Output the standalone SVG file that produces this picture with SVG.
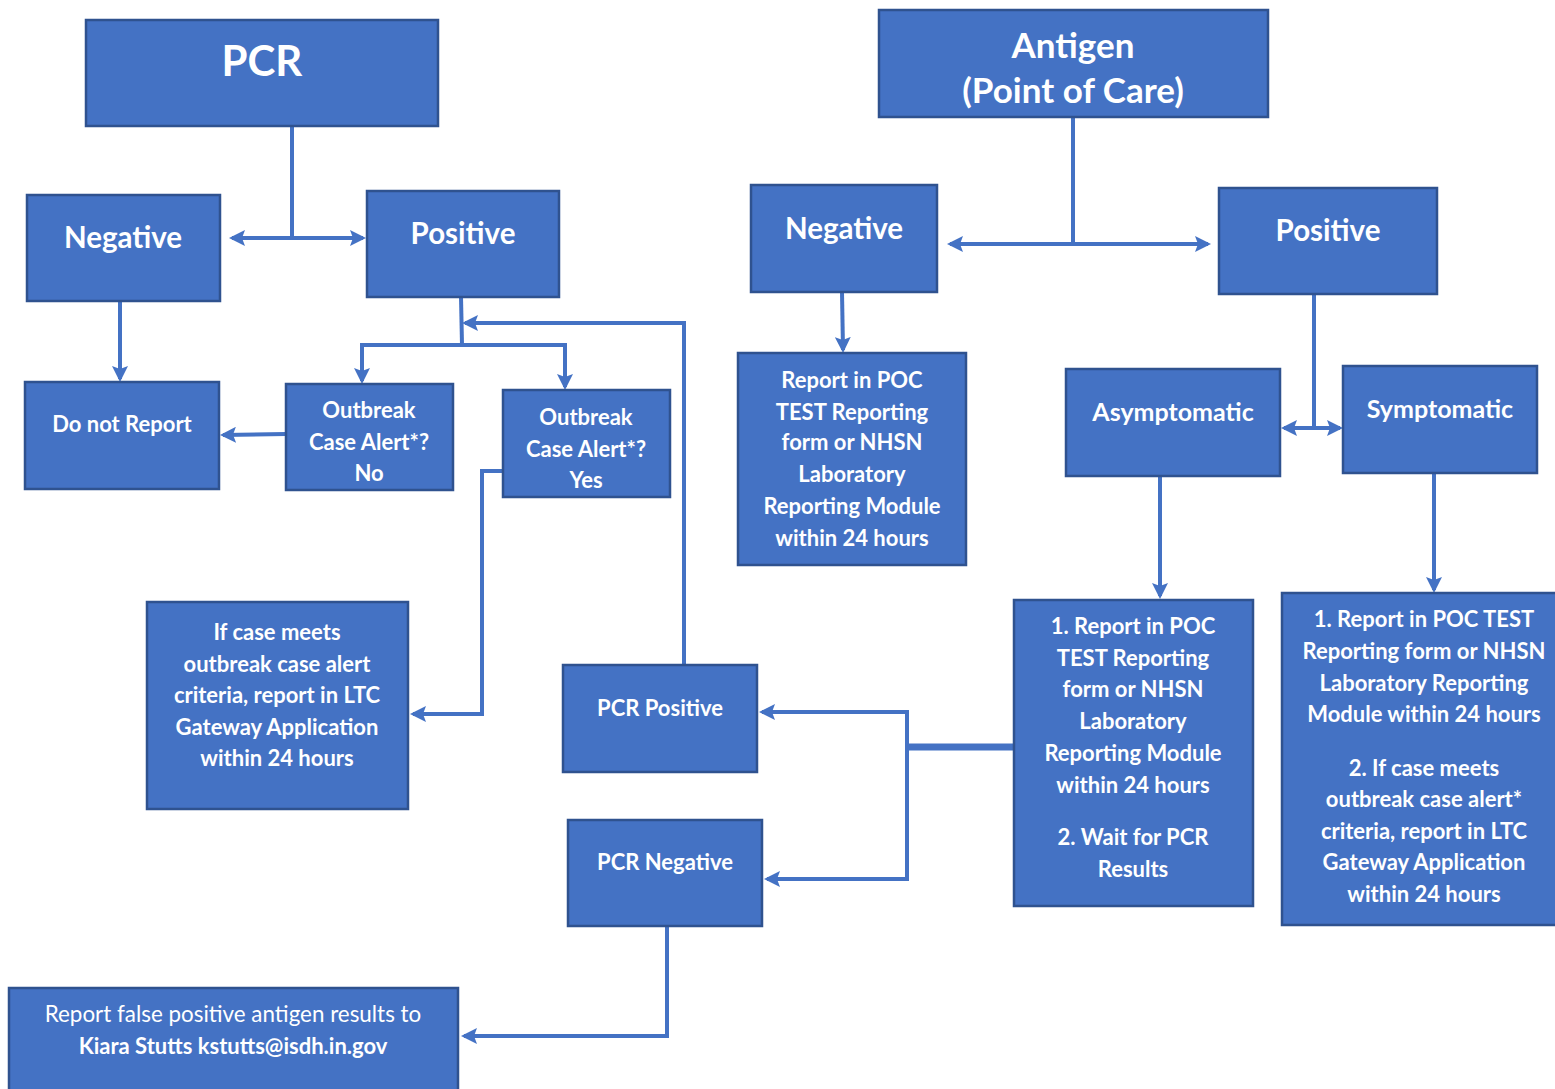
<svg xmlns="http://www.w3.org/2000/svg" width="1555" height="1089" viewBox="0 0 1555 1089">
<defs>
<style>
.box{fill:#4472C4;stroke:#2F528F;stroke-width:2.5}
.t{font-family:Lato,"Open Sans","Liberation Sans",sans-serif;font-weight:bold;fill:#fff;text-anchor:middle}
.r{font-weight:normal}
.c{fill:none;stroke:#4472C4;stroke-width:4}
.a{marker-end:url(#ah)}
.b{marker-start:url(#ah);marker-end:url(#ah)}
</style>
<marker id="ah" markerWidth="16" markerHeight="16" refX="13" refY="8" orient="auto-start-reverse" markerUnits="userSpaceOnUse"><path d="M0,0 L16,8 L0,16 L3,8 z" fill="#4472C4"/></marker>
</defs>
<rect width="1555" height="1089" fill="#fff"/>
<g id="connectors">
<path class="c" d="M292,126 V238"/>
<path class="c b" d="M232,238 H363"/>
<path class="c a" d="M120,301 V379"/>
<path class="c" d="M461,297 L462,345"/>
<path class="c" d="M362,345 H565"/>
<path class="c a" d="M362,343 V381"/>
<path class="c a" d="M565,343 V387"/>
<path class="c a" d="M286,434 L223,435"/>
<path class="c a" d="M503,471 H482 V714 H413"/>
<path class="c a" d="M684,665 V323 H465"/>
<path class="c" d="M1073,117 V244"/>
<path class="c b" d="M950,244 H1208"/>
<path class="c a" d="M842,292 L843,350"/>
<path class="c" d="M1314,294 V428"/>
<path class="c b" d="M1284,428 H1340"/>
<path class="c a" d="M1160,476 V596"/>
<path class="c a" d="M1434,473 V590"/>
<path class="c" style="stroke-width:7" d="M1014,747 H907"/>
<path class="c a" d="M907,747 V712 H762"/>
<path class="c a" d="M907,747 V879 H767"/>
<path class="c a" d="M667,926 V1036 H464"/>
</g>
<g id="pcr"><rect class="box" x="86" y="20" width="352" height="106"/><text class="t" x="262" y="76" font-size="42">PCR</text></g>
<g id="antigen"><rect class="box" x="879" y="10" width="389" height="107"/><text class="t" x="1073" y="58" font-size="35">Antigen</text><text class="t" x="1073" y="103" font-size="35">(Point of Care)</text></g>
<g id="pcr-negative"><rect class="box" x="27" y="195" width="193" height="106"/><text class="t" x="123" y="248" font-size="29.5">Negative</text></g>
<g id="pcr-positive"><rect class="box" x="367" y="191" width="192" height="106"/><text class="t" x="463" y="244" font-size="29.5">Positive</text></g>
<g id="do-not-report"><rect class="box" x="25" y="382" width="194" height="107"/><text class="t" x="122" y="432" font-size="22">Do not Report</text></g>
<g id="outbreak-no"><rect class="box" x="286" y="384" width="167" height="106"/><text class="t" font-size="22"><tspan x="369" y="418">Outbreak</tspan><tspan x="369" y="450">Case Alert*?</tspan><tspan x="369" y="481">No</tspan></text></g>
<g id="outbreak-yes"><rect class="box" x="503" y="390" width="167" height="107"/><text class="t" font-size="22"><tspan x="586" y="425">Outbreak</tspan><tspan x="586" y="457">Case Alert*?</tspan><tspan x="586" y="488">Yes</tspan></text></g>
<g id="ltc-report"><rect class="box" x="147" y="602" width="261" height="207"/><text class="t" font-size="22"><tspan x="277" y="640">If case meets</tspan><tspan x="277" y="672">outbreak case alert</tspan><tspan x="277" y="703">criteria, report in LTC</tspan><tspan x="277" y="735">Gateway Application</tspan><tspan x="277" y="766">within 24 hours</tspan></text></g>
<g id="pcr-positive-result"><rect class="box" x="563" y="665" width="194" height="107"/><text class="t" x="660" y="716" font-size="22">PCR Positive</text></g>
<g id="pcr-negative-result"><rect class="box" x="568" y="820" width="194" height="106"/><text class="t" x="665" y="870" font-size="22">PCR Negative</text></g>
<g id="false-positive"><rect class="box" x="9" y="988" width="449" height="110"/><text class="t" font-size="22"><tspan class="r" x="233" y="1022" font-size="22.4">Report false positive antigen results to</tspan><tspan x="233" y="1054">Kiara Stutts kstutts@isdh.in.gov</tspan></text></g>
<g id="antigen-negative"><rect class="box" x="751" y="185" width="186" height="107"/><text class="t" x="844" y="239" font-size="29.5">Negative</text></g>
<g id="antigen-positive"><rect class="box" x="1219" y="188" width="218" height="106"/><text class="t" x="1328" y="241" font-size="29.5">Positive</text></g>
<g id="poc-report-negative"><rect class="box" x="738" y="353" width="228" height="212"/><text class="t" font-size="22"><tspan x="852" y="388">Report in POC</tspan><tspan x="852" y="420">TEST Reporting</tspan><tspan x="852" y="450">form or NHSN</tspan><tspan x="852" y="482">Laboratory</tspan><tspan x="852" y="514">Reporting Module</tspan><tspan x="852" y="546">within 24 hours</tspan></text></g>
<g id="asymptomatic"><rect class="box" x="1066" y="369" width="214" height="107"/><text class="t" x="1173" y="421" font-size="25">Asymptomatic</text></g>
<g id="symptomatic"><rect class="box" x="1343" y="366" width="194" height="107"/><text class="t" x="1440" y="418" font-size="25">Symptomatic</text></g>
<g id="asym-report"><rect class="box" x="1014" y="600" width="239" height="306"/><text class="t" font-size="22"><tspan x="1133" y="634">1. Report in POC</tspan><tspan x="1133" y="666">TEST Reporting</tspan><tspan x="1133" y="697">form or NHSN</tspan><tspan x="1133" y="729">Laboratory</tspan><tspan x="1133" y="761">Reporting Module</tspan><tspan x="1133" y="793">within 24 hours</tspan><tspan x="1133" y="845">2. Wait for PCR</tspan><tspan x="1133" y="877">Results</tspan></text></g>
<g id="sym-report"><rect class="box" x="1282" y="593" width="280" height="332"/><text class="t" font-size="22"><tspan x="1424" y="627">1. Report in POC TEST</tspan><tspan x="1424" y="659">Reporting form or NHSN</tspan><tspan x="1424" y="691">Laboratory Reporting</tspan><tspan x="1424" y="722">Module within 24 hours</tspan><tspan x="1424" y="776">2. If case meets</tspan><tspan x="1424" y="807">outbreak case alert*</tspan><tspan x="1424" y="839">criteria, report in LTC</tspan><tspan x="1424" y="870">Gateway Application</tspan><tspan x="1424" y="902">within 24 hours</tspan></text></g>
</svg>
